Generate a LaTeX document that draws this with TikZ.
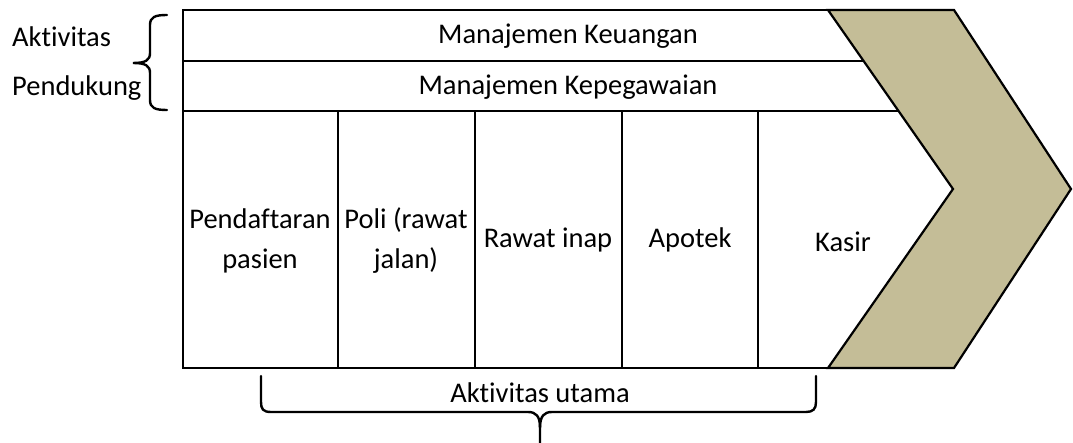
\documentclass[tikz,border=0pt]{standalone}
\usepackage{fontspec}
\setmainfont{Carlito}[RawFeature={-liga;-clig;-calt;-dlig}]
\begin{document}
\begin{tikzpicture}[x=1pt,y=-1pt,
  frame/.style={line width=2pt,black},
  label/.style={font=\fontsize{28.5}{40}\selectfont,align=center,inner sep=0pt},
  brace/.style={line width=2.4pt,black,line cap=round},
  chevfill/.style={fill=chev,draw=black,line width=2.2pt,line join=miter}]
\definecolor{chev}{HTML}{C4BD97}
\useasboundingbox (0,0) rectangle (1073,443);

% frame corners and row/column divisions
\coordinate (tl) at (183,10);
\coordinate (bl) at (183,368);
\coordinate (tr) at (828,10);
\coordinate (br) at (955,368);
\coordinate (r1l) at (183,61);  \coordinate (r1r) at (864,61);
\coordinate (r2l) at (183,111); \coordinate (r2r) at (899,111);

\draw[frame] (tr) -- (tl) -- (bl) -- (br);
\draw[frame] (r1l) -- (r1r);
\draw[frame] (r2l) -- (r2r);
\foreach \cx in {338,475,622,758}
  \draw[frame] (\cx,111) -- (\cx,368);

% chevron
\draw[chevfill] (828,10) -- (954,10) -- (1071,189) -- (954,368) -- (828,368) -- (953,189) -- cycle;

% support activities
\node[label] (keu) at (568,36) {Manajemen Keuangan};
\node[label] (peg) at (568,87) {Manajemen Kepegawaian};

% primary activities
\node[label] (daftar) at (260,241) {Pendaftaran\\pasien};
\node[label] (poli)   at (406,241) {Poli (rawat\\jalan)};
\node[label] (inap)   at (548,240) {Rawat inap};
\node[label] (apotek) at (690,240) {Apotek};
\node[label] (kasir)  at (843,242) {Kasir};

% left side label and brace
\node[label,anchor=west] (akt) at (12,37) {Aktivitas};
\node[label,anchor=west] (pend) at (12,88) {Pendukung};
\draw[brace] (167,15) .. controls (155,15) and (150,17) .. (150,25) -- (150,53)
  .. controls (150,60) and (146,63) .. (133,63)
  .. controls (146,63) and (150,66) .. (150,73) -- (150,100)
  .. controls (150,108) and (155,110) .. (167,110);

% bottom label and brace
\node[label] (utama) at (540,393) {Aktivitas utama};
\draw[brace] (261,376) -- (261,402) .. controls (261,409) and (263,412) .. (271,412)
  -- (528,412) .. controls (536,412) and (540,416) .. (540,428) -- (540,443);
\draw[brace] (540,428) .. controls (540,416) and (544,412) .. (552,412)
  -- (806,412) .. controls (813,412) and (816,409) .. (816,402) -- (816,376);
\end{tikzpicture}
\end{document}
